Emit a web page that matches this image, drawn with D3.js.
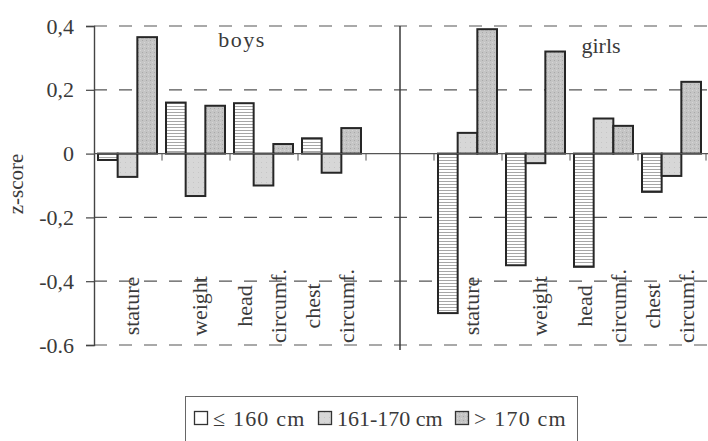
<!DOCTYPE html>
<html>
<head>
<meta charset="utf-8">
<script src="https://cdn.jsdelivr.net/npm/d3@7"></script>
<style>
  body { margin: 0; background: #fff; }
  svg text { font-family: "Liberation Serif", "Times New Roman", Times, serif !important; fill: #3a3a3a; }
</style>
</head>
<body>
<div id="chart"></div>
<script>
// categories and series
var categories = [["stature"], ["weight"], ["head", "circumf."], ["chest", "circumf."]];
var seriesNames = ["\u2264 160 cm", "161-170 cm", "> 170 cm"];
var groups = ["boys", "girls"];

// z-scores
var boysLe160 = [-0.02, 0.16, 0.158, 0.048];
var boysMid = [-0.073, -0.133, -0.10, -0.06];
var boysGt170 = [0.365, 0.15, 0.03, 0.08];
var girlsLe160 = [-0.50, -0.35, -0.355, -0.12];
var girlsMid = [0.065, -0.03, 0.11, -0.07];
var girlsGt170 = [0.39, 0.32, 0.087, 0.225];

var yTicks = [0.4, 0.2, 0, -0.2, -0.4, -0.6];
var yTickLabels = ["0,4", "0,2", "0", "-0,2", "-0,4", "-0.6"];

var W = 708, H = 441;
var margin = {top: 26, left: 94, right: 2, bottom: 96};
var serif = "'Liberation Serif', 'Times New Roman', Times, serif";

var svg = d3.select("#chart").append("svg")
  .attr("width", W)
  .attr("height", H)
  .style("font-family", serif);

// fills: horizontal hatching, light grey, speckled grey
var defs = svg.append("defs");
var p1 = defs.append("pattern").attr("id", "fill0")
  .attr("patternUnits", "userSpaceOnUse").attr("width", 6).attr("height", 3);
p1.append("rect").attr("width", 6).attr("height", 3).attr("fill", "#fff");
p1.append("line").attr("x1", 0).attr("x2", 6).attr("y1", 1.5).attr("y2", 1.5)
  .attr("stroke", "#9c9c9c").attr("stroke-width", 0.9);

var p2 = defs.append("pattern").attr("id", "fill1")
  .attr("patternUnits", "userSpaceOnUse").attr("width", 5).attr("height", 5);
p2.append("rect").attr("width", 5).attr("height", 5).attr("fill", "#d7d7d7");
p2.append("rect").attr("x", 1).attr("y", 2).attr("width", 1).attr("height", 1).attr("fill", "#c6c6c6");

var p3 = defs.append("pattern").attr("id", "fill2")
  .attr("patternUnits", "userSpaceOnUse").attr("width", 4).attr("height", 4);
p3.append("rect").attr("width", 4).attr("height", 4).attr("fill", "#c5c5c5");
p3.append("rect").attr("x", 0).attr("y", 0).attr("width", 1).attr("height", 1).attr("fill", "#a9a9a9");
p3.append("rect").attr("x", 2).attr("y", 2).attr("width", 1).attr("height", 1).attr("fill", "#d6d6d6");

var fills = ["url(#fill0)", "url(#fill1)", "url(#fill2)"];
// the legend keys are drawn plainer than the bars
var legendFills = ["#fff", "url(#fill1)", "url(#fill2)"];

// build the table: boys bands, an empty band, girls bands
var rows = [];
categories.forEach(function (c, i) {
  rows.push({key: "b" + i, label: c, values: [boysLe160[i], boysMid[i], boysGt170[i]]});
});
rows.push({key: "gap", label: null, values: []});
categories.forEach(function (c, i) {
  rows.push({key: "g" + i, label: c, values: [girlsLe160[i], girlsMid[i], girlsGt170[i]]});
});

var x = d3.scaleBand()
  .domain(rows.map(function (d) { return d.key; }))
  .range([margin.left, W - margin.right]);

var xSub = d3.scaleBand()
  .domain(d3.range(seriesNames.length))
  .range([4, x.bandwidth() - 5]);

var y = d3.scaleLinear()
  .domain([-0.6, 0.4])
  .range([345, margin.top]);

// dashed grid
svg.append("g").selectAll("line")
  .data(yTicks.filter(function (d) { return d !== 0; }))
  .enter().append("line")
  .attr("x1", margin.left)
  .attr("x2", W)
  .attr("y1", function (d) { return y(d); })
  .attr("y2", function (d) { return y(d); })
  .attr("stroke", "#555")
  .attr("stroke-width", 1.2)
  .attr("stroke-dasharray", "13,12");

// y axis
var yAxis = d3.axisLeft(y)
  .tickValues(yTicks)
  .tickSize(8)
  .tickPadding(12)
  .tickFormat(function (d, i) { return yTickLabels[i]; });
var gy = svg.append("g")
  .attr("transform", "translate(" + margin.left + ",0)")
  .call(yAxis)
  .attr("font-family", null)
  .attr("font-size", null);
gy.select(".domain").attr("stroke", "#444").attr("stroke-width", 1.4);
gy.selectAll(".tick line").attr("stroke", "#444").attr("stroke-width", 1.2);
gy.selectAll(".tick text")
  .style("font-size", "22px")
  .attr("fill", "#3a3a3a");

// axis title
svg.append("text")
  .attr("transform", "translate(23,184) rotate(-90)")
  .attr("text-anchor", "middle")
  .style("font-size", "21px")
  .text("z-score");

// bars
var bandG = svg.append("g").selectAll("g")
  .data(rows)
  .enter().append("g")
  .attr("transform", function (d) { return "translate(" + x(d.key) + ",0)"; });

bandG.selectAll("rect")
  .data(function (d) { return d.values; })
  .enter().append("rect")
  .attr("x", function (d, i) { return xSub(i); })
  .attr("width", xSub.bandwidth())
  .attr("y", function (d) { return y(Math.max(0, d)); })
  .attr("height", function (d) { return Math.abs(y(d) - y(0)); })
  .attr("fill", function (d, i) { return fills[i]; })
  .attr("stroke", "#262626")
  .attr("stroke-width", 2);

// zero line with small ticks at the band edges
svg.append("line")
  .attr("x1", margin.left)
  .attr("x2", W)
  .attr("y1", y(0))
  .attr("y2", y(0))
  .attr("stroke", "#555")
  .attr("stroke-width", 1.2);

var edges = rows.slice(1).map(function (d) { return x(d.key); })
  .concat([x(rows[rows.length - 1].key) + x.bandwidth()]);
svg.append("g").selectAll("line")
  .data(edges)
  .enter().append("line")
  .attr("x1", function (d) { return d; })
  .attr("x2", function (d) { return d; })
  .attr("y1", y(0))
  .attr("y2", y(0) + 7)
  .attr("stroke", "#555")
  .attr("stroke-width", 1);

// divider between boys and girls
svg.append("line")
  .attr("x1", x("gap") + x.bandwidth() / 2)
  .attr("x2", x("gap") + x.bandwidth() / 2)
  .attr("y1", margin.top)
  .attr("y2", 350)
  .attr("stroke", "#3a3a3a")
  .attr("stroke-width", 1.5);

// group titles
svg.append("text")
  .attr("x", 242)
  .attr("y", 47)
  .attr("text-anchor", "middle")
  .style("font-size", "22px")
  .attr("letter-spacing", 1.5)
  .text(groups[0]);
svg.append("text")
  .attr("x", 601)
  .attr("y", 53)
  .attr("text-anchor", "middle")
  .style("font-size", "22px")
  .text(groups[1]);

// category labels, rotated, one or two lines per band
var lineGap = 34;
rows.filter(function (d) { return d.label; }).forEach(function (d) {
  var cx = x(d.key) + x.bandwidth() / 2;
  var n = d.label.length;
  d.label.forEach(function (line, j) {
    var lx = n === 1 ? cx + 4 : cx - 2 + (j - (n - 1) / 2) * lineGap;
    svg.append("text")
      .attr("transform", "translate(" + lx + ",306) rotate(-90)")
      .attr("text-anchor", "middle")
      .attr("dy", "0.3em")
      .style("font-size", "22px")
      .text(line);
  });
});

// legend (its lower edge runs off the picture)
var legendX = [194, 318, 455];
var legend = svg.append("g");
legend.append("rect")
  .attr("x", 185.5)
  .attr("y", 396.5)
  .attr("width", 392)
  .attr("height", 60)
  .attr("fill", "none")
  .attr("stroke", "#666")
  .attr("stroke-width", 1);
var li = legend.selectAll(".item")
  .data(seriesNames)
  .enter().append("g")
  .attr("class", "item")
  .attr("transform", function (d, i) { return "translate(" + legendX[i] + ",0)"; });
li.append("rect")
  .attr("x", 0.5)
  .attr("y", 411.5)
  .attr("width", 13)
  .attr("height", 13)
  .attr("fill", function (d, i) { return legendFills[i]; })
  .attr("stroke", "#333")
  .attr("stroke-width", 1.3);
li.append("text")
  .attr("x", 19)
  .attr("y", 426)
  .style("font-size", "22px")
  .attr("letter-spacing", function (d, i) { return i === 1 ? 0 : 1.2; })
  .text(function (d) { return d; });
</script>
</body>
</html>
